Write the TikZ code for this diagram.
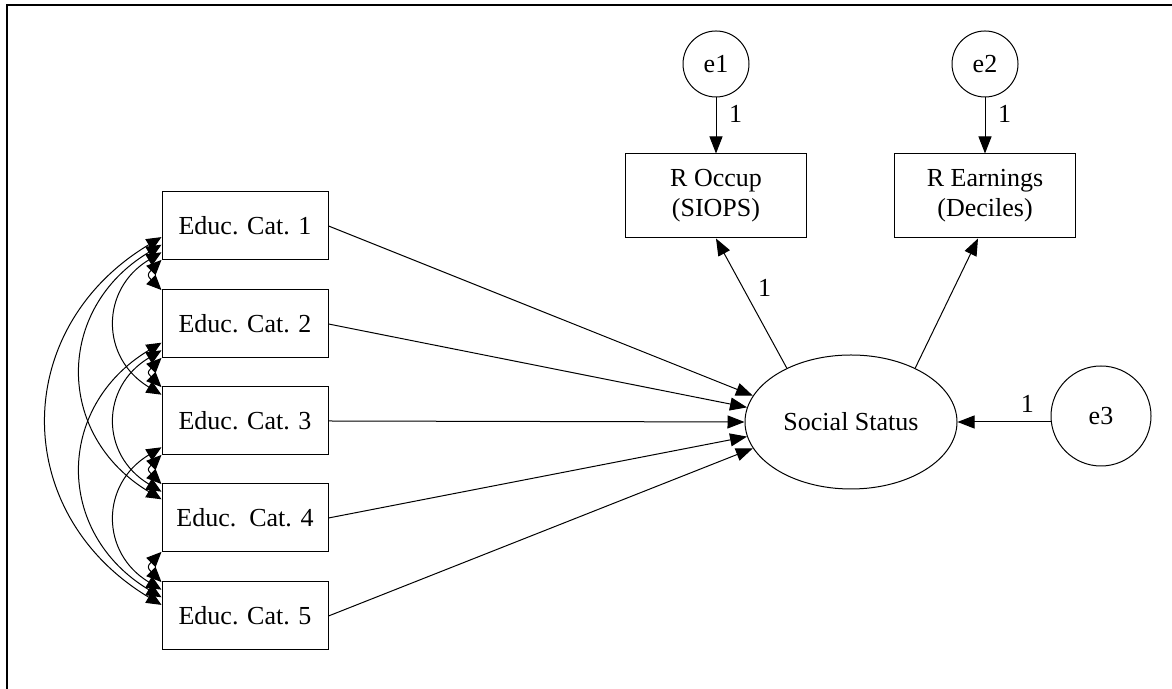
\documentclass[tikz,border=0pt]{standalone}
\usepackage{fontspec}
\setmainfont{Liberation Serif}
\usetikzlibrary{arrows.meta,shapes.geometric}
\tikzset{
	obs/.style={draw,line width=0.5pt,minimum width=83pt,minimum height=34pt,inner sep=0pt},
	obsbig/.style={draw,line width=0.5pt,minimum width=90.5pt,minimum height=42pt,inner sep=0pt,align=center},
	lat/.style={draw,ellipse,line width=0.5pt,minimum width=106pt,minimum height=67pt,inner sep=0pt},
	err/.style={draw,circle,line width=0.5pt,minimum size=33pt,inner sep=0pt},
	path/.style={-{Triangle[length=8.5pt,width=6.5pt]},line width=0.5pt},
	cov/.style={{Triangle[length=7.5pt,width=6.5pt]}-{Triangle[length=7.5pt,width=6.5pt]},line width=0.5pt}
}
\begin{document}
\begin{tikzpicture}[x=0.5pt,y=0.5pt,font=\fontsize{13}{15}\selectfont]
	\useasboundingbox (0,0) rectangle (1172,689);
	\draw[line width=1pt] (7,0) -- (7,684) -- (1172,684); % Khung
	\node[obs] (edu1) at (245,463) {Educ. Cat. 1};
	\node[obs] (edu2) at (245,365) {Educ. Cat. 2};
	\node[obs] (edu3) at (245,268) {Educ. Cat. 3};
	\node[obs] (edu4) at (245,171) {Educ.\ \ Cat. 4};
	\node[obs] (edu5) at (245,73) {Educ. Cat. 5};
	\node[obsbig] (occ) at (716,493) {R Occup\\(SIOPS)};
	\node[obsbig] (earn) at (985,493) {R Earnings\\(Deciles)};
	\node[lat] (ss) at (851,267) {Social Status};
	\node[err] (e1) at (716,625) {e1};
	\node[err] (e2) at (985,625) {e2};
	\node[err,minimum size=50pt] (e3) at (1101,273) {e3};
	\draw[path] (e1) -- (occ) node[pos=0.3,right=3pt] {1};
	\draw[path] (e2) -- (earn) node[pos=0.3,right=3pt] {1};
	\draw[path] (ss.140) -- (occ.south) node[pos=0.62,right=4pt] {1};
	\draw[path] (ss.40) -- ([xshift=-3.5pt]earn.south);
	\draw[path] (ss.east -| e3.west) -- (ss.east) node[pos=0.25,above=1pt] {1};
	\foreach \i/\g in {1/165,2/172,3/180,4/188,5/195}
		\draw[path] (edu\i.east) -- (ss.\g); % Các mũi tên vào biến tiềm ẩn
	\foreach \i in {1,...,4}{
		\pgfmathtruncatemacro{\k}{\i+1}
		\foreach \j in {\k,...,5}{
			\pgfmathsetmacro{\dy}{(41.5-7.6*(\j-\i))/2}
			\pgfmathsetmacro{\dd}{ifthenelse(\j-\i==1,10,(34*(\j-\i)-22)*0.777)}
			\pgfmathsetmacro{\oa}{ifthenelse(\j-\i==1,225,211)}
			\draw[cov] ([yshift=-\dy pt]edu\i.west) to[out=\oa,in=360-\oa,distance=\dd pt] ([yshift=\dy pt]edu\j.west); % Hiệp phương sai
		}
	}
\end{tikzpicture}
\end{document}
